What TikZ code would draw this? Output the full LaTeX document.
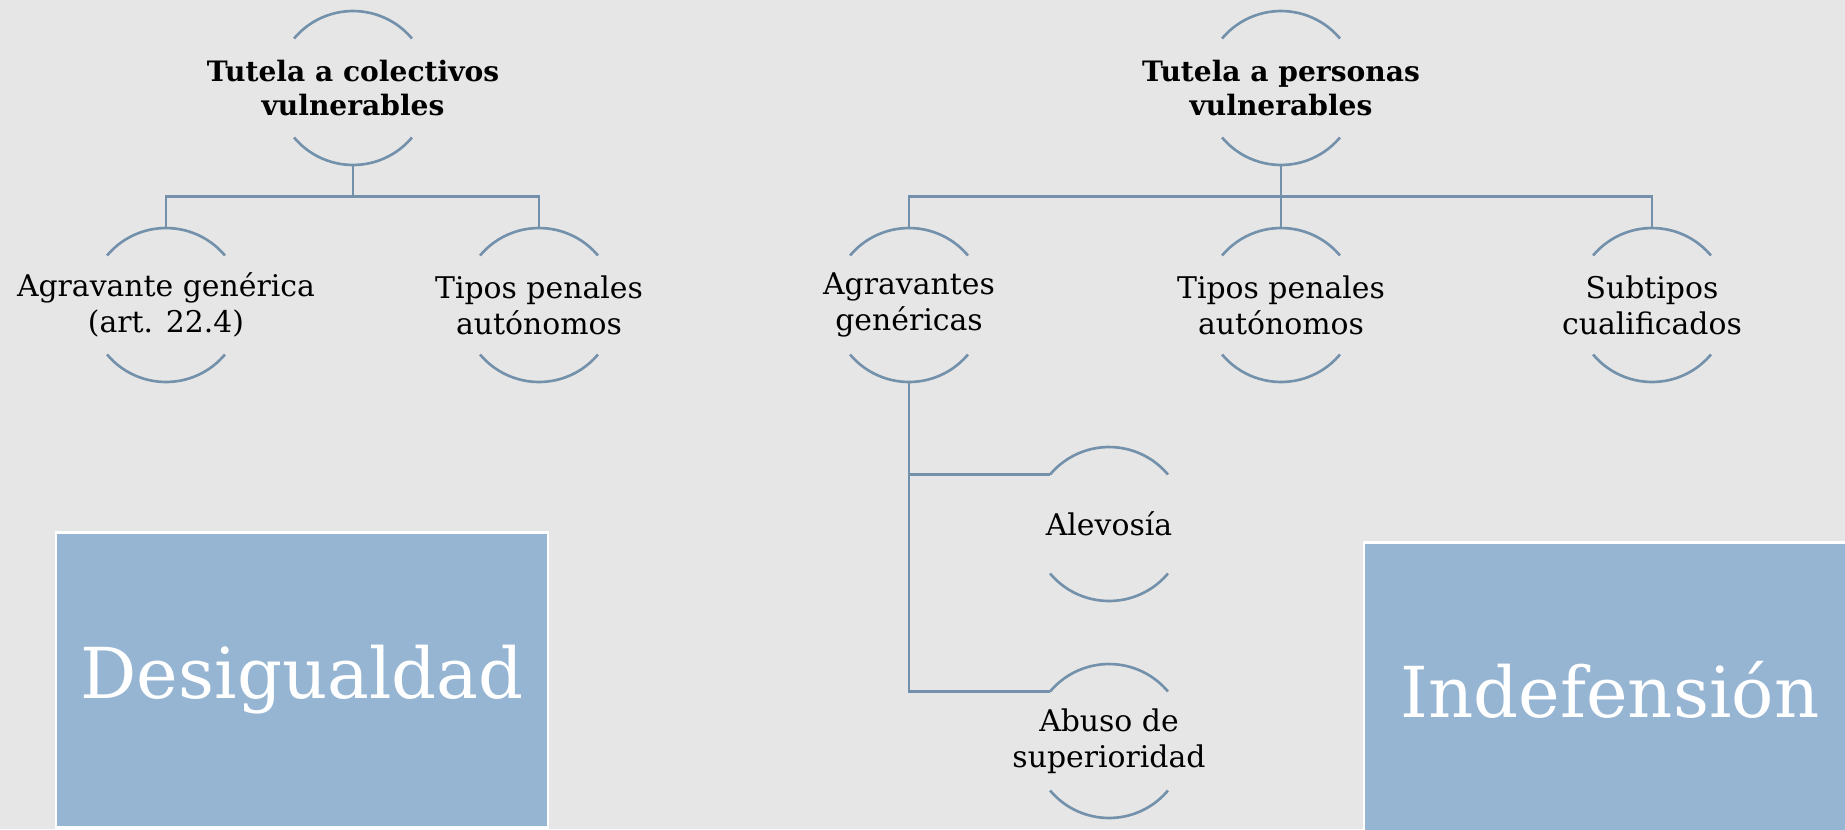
\documentclass[tikz,border=0pt]{standalone}
\usepackage{fontspec}
\setmainfont{DejaVu Serif}
\usetikzlibrary{positioning, calc}
\definecolor{bgGray}{RGB}{230,230,230}
\definecolor{lineBlue}{RGB}{116,145,172}
\definecolor{boxBlue}{RGB}{149,181,211}

\begin{document}
\begin{tikzpicture}[x=0.02cm, y=-0.02cm,
    bubble/.style={circle, minimum size=3.08cm, inner sep=0pt, outer sep=0pt},
    txt/.style={font=\fontsize{17}{20.5}\selectfont, align=center, inner sep=0pt},
    head/.style={font=\fontsize{16}{19.5}\selectfont\bfseries, align=center, inner sep=0pt},
    link/.style={lineBlue, line width=1.5pt},
    bigbox/.style={rectangle, fill=boxBlue, draw=white, line width=1.2pt,
                   minimum width=9.84cm, minimum height=5.9cm, text=white,
                   font=\fontsize{40}{48}\selectfont}
]
    % Background
    \fill[bgGray] (0,0) rectangle (1845,829);
    \useasboundingbox (0,0) rectangle (1845,829);
    \clip (0,0) rectangle (1845,829);

    % Left tree
    \node[bubble] (colec) at (353,88) {};
    \node[bubble] (agrgen) at (166,305) {};
    \node[bubble] (tipcol) at (539,305) {};
    \node[head] (colec-t) at (colec) {Tutela a colectivos\\vulnerables};
    \node[txt] (agrgen-t) at (agrgen) {Agravante genérica\\(art. 22.4)};
    \node[txt] (tipcol-t) at (tipcol) {Tipos penales\\autónomos};

    % Right tree
    \node[bubble] (pers) at (1281,88) {};
    \node[bubble] (agravs) at (909,305) {};
    \node[bubble] (tippers) at (1281,305) {};
    \node[bubble] (subt) at (1652,305) {};
    \node[bubble] (alev) at (1109,524) {};
    \node[bubble] (abuso) at (1109,741) {};
    \node[head] (pers-t) at (pers) {Tutela a personas\\vulnerables};
    \node[txt] (agravs-t) at (agravs) {Agravantes\\genéricas};
    \node[txt] (tippers-t) at (tippers) {Tipos penales\\autónomos};
    \node[txt] (subt-t) at (subt) {Subtipos\\cualificados};
    \node[txt] (alev-t) at (alev) {Alevosía};
    \node[txt] (abuso-t) at (abuso) {Abuso de\\superioridad};

    % Open circles
    \foreach \n in {colec, agrgen, tipcol, pers, agravs, tippers, subt, alev, abuso} {
        \draw[link] (\n.140) arc[start angle=140, end angle=40, radius=1.54cm];
        \draw[link] (\n.220) arc[start angle=220, end angle=320, radius=1.54cm];
    }

    % Connectors
    \draw[link] (colec.south) -- ++(0,31.5) -| (agrgen.north);
    \draw[link] (colec.south) -- ++(0,31.5) -| (tipcol.north);
    \draw[link] (pers.south) -- ++(0,31.5) -| (agravs.north);
    \draw[link] (pers.south) -- (tippers.north);
    \draw[link] (pers.south) -- ++(0,31.5) -| (subt.north);
    \draw[link] (agravs.south) |- (alev.140);
    \draw[link] (agravs.south) |- (abuso.140);

    % Boxes
    \node[bigbox] (desig) at (302,680) {Desigualdad};
    \node[bigbox] (indef) at (1610,690) {Indefensión};
\end{tikzpicture}
\end{document}
